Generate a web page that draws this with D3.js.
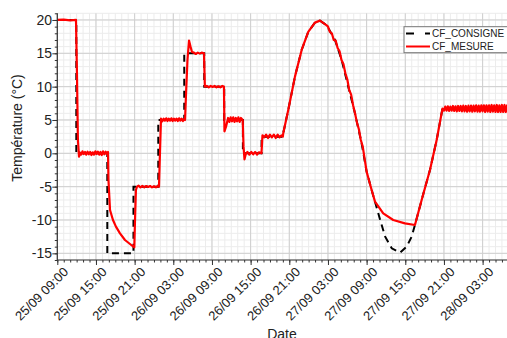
<!DOCTYPE html>
<html><head><meta charset="utf-8">
<script src="https://cdn.jsdelivr.net/npm/d3@7"></script>
<style>
body{margin:0;background:#fff;}
svg{display:block;font-family:"Liberation Sans",Arial,sans-serif;}
</style>
</head><body>
<svg id="c" width="507" height="338"></svg>
<script>
// ---------- data ----------
const startLabel = "25/09 09:00";
const xTickLabels = ["25/09 09:00","25/09 15:00","25/09 21:00","26/09 03:00","26/09 09:00","26/09 15:00",
                     "26/09 21:00","27/09 03:00","27/09 09:00","27/09 15:00","27/09 21:00","28/09 03:00"];
const yTicks = [-15,-10,-5,0,5,10,15,20];
const seriesNames = ["CF_CONSIGNE","CF_MESURE"];
const axisTitles = ["Date","Température (°C)"];

// hours since 25/09 09:00
const consigneH = [0,2.95,2.95,7.76,7.76,11.82,11.82,15.67,15.67,19.7,19.7,22.8,22.8,25.9,25.9,28.8,28.8,31.7,31.7,35.0,
  35.06,35.84,36.88,37.92,38.94,39.98,40.76,41.8,43.09,44.13,45.15,46.19,47.23,48.0,48.78,49.3,
  50.1,50.88,51.9,53.19,54.21,54.99,55.5,56.54,57.83,58.87,59.77,71];
const consigneV = [20,20,0,0,-15,-15,-5,-5,5,5,15,15,10,10,5,5,0,0,2.5,2.5,
  3,6.5,11.5,15.5,18.2,19.6,19.9,19.2,17,14,10,6,1.5,-2.75,-5.5,-7.25,
  -10,-12.5,-14.25,-14.9,-14,-12.5,-10.75,-7,-2.5,2,6.7,6.7];

const mesureH = [0,1,2,2.9,3.05,3.2,3.37,3.52,
  3.7,3.9,4.1,4.3,4.5,4.7,4.9,5.1,5.3,5.5,5.7,5.9,6.1,6.3,6.5,6.7,6.9,7.1,7.3,7.5,7.7,7.87,
  7.94,8.18,8.64,9.1,9.73,10.5,11.28,11.95,12.06,12.2,12.37,
  12.6,12.9,13.2,13.5,13.8,14.1,14.4,14.7,15.0,15.3,15.6,15.78,
  15.93,16.09,
  16.3,16.5,16.7,16.9,17.1,17.3,17.5,17.7,17.9,18.1,18.3,18.5,18.7,18.9,19.1,19.3,19.5,19.7,19.82,
  19.98,20.2,20.44,20.67,20.9,
  21.2,21.5,21.8,22.1,22.4,22.76,
  22.9,23.2,23.5,23.8,24.1,24.4,24.7,25.0,25.3,25.6,25.86,
  25.94,26.18,26.5,
  26.7,26.9,27.1,27.3,27.5,27.7,27.9,28.1,28.3,28.5,28.77,
  28.9,29.05,29.28,
  29.5,29.8,30.1,30.4,30.7,31.0,31.3,31.68,
  31.84,32.1,32.4,32.7,33.0,33.3,33.6,33.9,34.2,34.5,34.8,35.0,
  35.06,35.84,36.88,37.92,38.94,39.98,40.76,41.8,
  42.0,42.3,42.6,42.9,43.2,43.5,43.8,44.1,44.4,44.7,45.0,45.3,45.6,45.9,46.2,46.5,46.8,47.1,47.4,
  48.0,48.78,49.3,50.58,52.13,53.95,55.5,56.54,57.83,58.87,59.77,
  60.0,60.2,60.4,60.6,60.8,61.0,61.2,61.4,61.6,61.8,62.0,62.2,62.4,62.6,62.8,63.0,63.2,63.4,63.6,63.8,
  64.0,64.2,64.4,64.6,64.8,65.0,65.2,65.4,65.6,65.8,66.0,66.2,66.4,66.6,66.8,67.0,67.2,67.4,67.6,67.8,
  68.0,68.2,68.4,68.6,68.8,69.0,69.2,69.4,69.6,69.8,70.0,70.2,70.4,70.6];
const mesureV = [20,20.05,19.95,20,12,2,-0.5,0.1,
  -0.2,0.3,-0.1,0.2,-0.2,0.25,-0.15,0.2,-0.25,0.15,-0.2,0.3,-0.1,0.25,-0.2,0.2,-0.25,0.3,-0.15,0.25,-0.1,0.2,
  -4,-8.5,-10,-11,-12,-13,-13.6,-14.1,-10,-5.5,-5,
  -4.85,-5.1,-4.9,-5.1,-4.9,-5.05,-4.9,-5.1,-4.95,-5.1,-4.9,-5,
  0,5.2,
  4.8,5.2,4.9,5.25,4.85,5.2,4.9,5.25,4.85,5.2,4.9,5.2,4.85,5.25,4.9,5.2,4.85,5.15,5,
  9,14,16.9,16,15.2,
  15.1,14.9,15.1,14.95,15.1,15,
  10,10.1,9.9,10.1,9.95,10.1,9.9,10.05,9.9,10.1,10,
  3.3,4,5.3,
  4.7,5.4,4.8,5.4,4.7,5.3,4.8,5.4,4.7,5.3,5,
  1,-0.9,0,
  0.2,-0.2,0.2,-0.15,0.2,-0.2,0.15,0,
  2.7,2.4,2.8,2.3,2.8,2.4,2.8,2.3,2.8,2.4,2.7,2.5,
  3,6.5,11.5,15.5,18.2,19.6,19.9,19.2,
  19.0,18.2,18.0,17.0,16.9,15.8,15.3,14.0,13.4,12.0,11.1,9.5,8.8,7.2,6.0,4.6,3.6,2.0,1.0,
  -2.75,-5.5,-7.25,-9,-10,-10.5,-10.75,-7,-2.5,2,6.7,
  6.4,7.0,6.4,7.05,6.35,7.0,6.4,7.1,6.35,7.05,6.3,7.1,6.35,7.1,6.3,7.15,6.3,7.1,6.25,7.15,
  6.3,7.15,6.25,7.15,6.3,7.2,6.25,7.15,6.25,7.2,6.3,7.2,6.2,7.2,6.25,7.2,6.2,7.25,6.25,7.2,
  6.2,7.25,6.2,7.2,6.2,7.25,6.2,7.25,6.2,7.2,6.2,7.25,6.2,7.2];

// ---------- chart ----------
const svg = d3.select("#c");
const parse = d3.timeParse("%Y %d/%m %H:%M");
const t0 = parse("2020 " + startLabel);
const toDate = h => new Date(+t0 + h * 3600e3);
const tickDates = xTickLabels.map(s => parse("2020 " + s));

const pL = 57.3, pR = 510, pT = 13.3, pB = 260;
const x = d3.scaleTime().domain([t0, toDate(70.25)]).range([pL, pR]);
const y = d3.scaleLinear().domain([-16, 21]).range([pB, pT]);

svg.append("defs").append("clipPath").attr("id","clip")
  .append("rect").attr("x", pL).attr("y", pT).attr("width", pR-pL).attr("height", pB-pT);

// grid
const g = svg.append("g");
const minorX = x.ticks(d3.timeHour.every(1));
const minorY = d3.range(-16, 22, 1);
g.selectAll(".mx").data(minorX).join("line")
  .attr("x1", d=>x(d)).attr("x2", d=>x(d)).attr("y1", pT).attr("y2", pB)
  .attr("stroke","#ececec").attr("stroke-width",1);
g.selectAll(".my").data(minorY).join("line")
  .attr("y1", d=>y(d)).attr("y2", d=>y(d)).attr("x1", pL).attr("x2", pR)
  .attr("stroke","#ececec").attr("stroke-width",1);
g.selectAll(".Mx").data(tickDates).join("line")
  .attr("x1", d=>x(d)).attr("x2", d=>x(d)).attr("y1", pT).attr("y2", pB)
  .attr("stroke","#cfcfcf").attr("stroke-width",1);
g.selectAll(".My").data(yTicks).join("line")
  .attr("y1", d=>y(d)).attr("y2", d=>y(d)).attr("x1", pL).attr("x2", pR)
  .attr("stroke","#cfcfcf").attr("stroke-width",1);

// lines
const line = d3.line().x(d=>x(toDate(d[0]))).y(d=>y(d[1]));
const cons = consigneH.map((h,i)=>[h, consigneV[i]]);
const mes = mesureH.map((h,i)=>[h, mesureV[i]]);
const lg = svg.append("g").attr("clip-path","url(#clip)");
lg.append("path").datum(cons).attr("d", line).attr("fill","none")
  .attr("stroke","#000").attr("stroke-width",2).attr("stroke-dasharray","7,5");
lg.append("path").datum(mes).attr("d", line).attr("fill","none")
  .attr("stroke","#ff0000").attr("stroke-width",2.2).attr("stroke-linejoin","round");

// axes
const axisColor = "#333";
const xa = svg.append("g").attr("transform",`translate(0,${pB})`);
xa.call(d3.axisBottom(x).tickValues(minorX).tickSize(2.5).tickFormat(""));
const xa2 = svg.append("g").attr("transform",`translate(0,${pB})`);
xa2.call(d3.axisBottom(x).tickValues(tickDates).tickSize(5).tickFormat(""));
const ya = svg.append("g").attr("transform",`translate(${pL},0)`);
ya.call(d3.axisLeft(y).tickValues(minorY).tickSize(2.5).tickFormat(""));
const ya2 = svg.append("g").attr("transform",`translate(${pL},0)`);
ya2.call(d3.axisLeft(y).tickValues(yTicks).tickSize(5).tickFormat(""));
[xa,xa2,ya,ya2].forEach(a=>{ a.selectAll(".tick line").attr("stroke",axisColor); a.select(".domain").remove(); });
svg.append("line").attr("x1",pL).attr("x2",pR).attr("y1",pB).attr("y2",pB)
  .attr("stroke",axisColor).attr("stroke-width",1.2);
svg.append("line").attr("x1",pL).attr("x2",pL).attr("y1",pT).attr("y2",pB)
  .attr("stroke",axisColor).attr("stroke-width",1.2);

// tick labels
svg.append("g").selectAll("text").data(yTicks).join("text")
  .attr("x", 52).attr("y", d=>y(d)).attr("dy","0.36em").attr("text-anchor","end")
  .attr("font-size",14).attr("fill","#222").text(d=>d);
svg.append("g").selectAll("text").data(tickDates).join("text")
  .attr("transform", d=>`translate(${x(d)+8.5},269.5) rotate(-45)`)
  .attr("dy","0.35em").attr("text-anchor","end")
  .attr("font-size",13).attr("fill","#222").text(d=>d3.timeFormat("%d/%m %H:%M")(d));

// axis titles
svg.append("text").attr("x", 282).attr("y", 339).attr("text-anchor","middle")
  .attr("font-size",14).attr("fill","#222").text(axisTitles[0]);
svg.append("text").attr("transform","translate(22,128) rotate(-90)").attr("text-anchor","middle")
  .attr("font-size",14).attr("fill","#222").text(axisTitles[1]);

// legend
const leg = svg.append("g");
leg.append("rect").attr("x",404).attr("y",26.7).attr("width",120).attr("height",26)
  .attr("fill","#fff").attr("stroke","#777").attr("stroke-width",1);
const legY = [33.5, 46.5];
leg.append("line").attr("x1",406).attr("x2",430).attr("y1",legY[0]).attr("y2",legY[0])
  .attr("stroke","#000").attr("stroke-width",2).attr("stroke-dasharray","8,11");
leg.append("line").attr("x1",406).attr("x2",430).attr("y1",legY[1]).attr("y2",legY[1])
  .attr("stroke","#ff0000").attr("stroke-width",2);
seriesNames.forEach((n,i)=>{
  leg.append("text").attr("x",432).attr("y",legY[i]).attr("dy","0.36em")
    .attr("font-size",10).attr("fill","#222").text(n);
});
</script>
</body></html>
